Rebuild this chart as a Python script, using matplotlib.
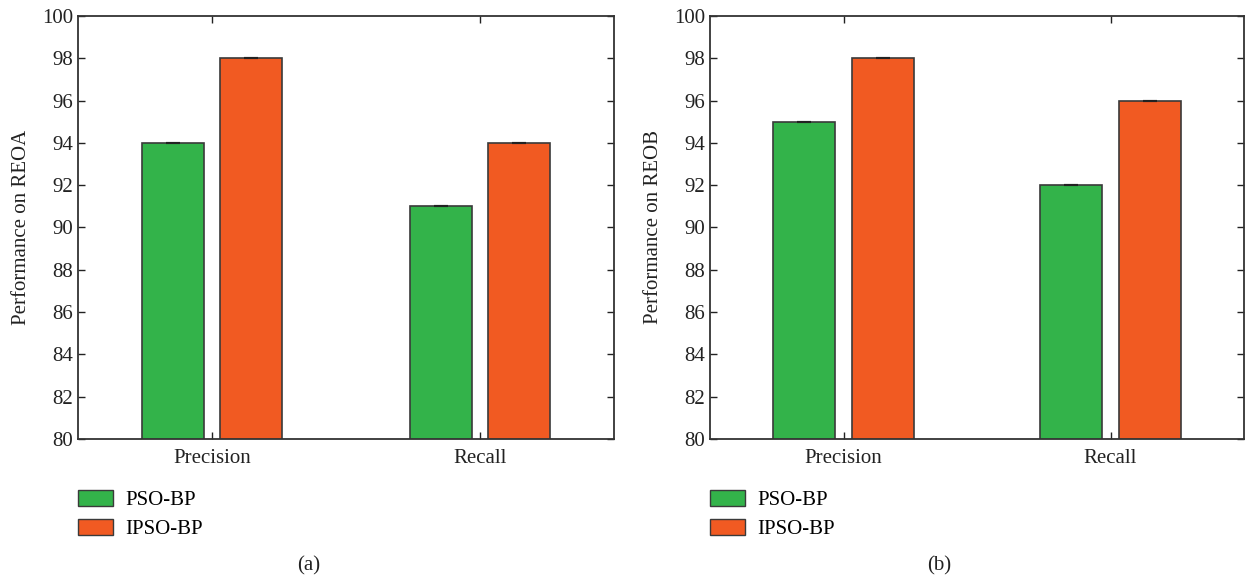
import numpy as np
import matplotlib
matplotlib.use("Agg")
from matplotlib import pyplot as plt
from matplotlib.patches import Patch

categories = ["Precision", "Recall"]
series_names = ["PSO-BP", "IPSO-BP"]
reoa_pso = [94, 91]
reoa_ipso = [98, 94]
reob_pso = [95, 92]
reob_ipso = [98, 96]
yticks = list(range(80, 101, 2))

green = "#33b34a"
orange = "#f15a22"
edge = "#3a3a3a"

plt.rcParams["font.family"] = ["Liberation Serif", "DejaVu Serif"]

fig = plt.figure(figsize=(12.45, 5.8), dpi=100)
ax1 = fig.add_axes([78 / 1245, 1 - 439 / 580, 536 / 1245, 423 / 580])
ax2 = fig.add_axes([710 / 1245, 1 - 439 / 580, 534 / 1245, 423 / 580])


def draw(ax, pso, ipso, ylabel, tag):
    x = np.arange(1, len(categories) + 1)
    w = 0.232
    off = 0.147
    ax.bar(x - off, pso, w, color=green, edgecolor=edge, linewidth=1.2, zorder=2)
    ax.bar(x + off, ipso, w, color=orange, edgecolor=edge, linewidth=1.2, zorder=2)
    ax.errorbar(x - off, pso, yerr=[0] * len(pso), fmt="none", ecolor="#222222",
                capsize=5, capthick=1.5, zorder=3)
    ax.errorbar(x + off, ipso, yerr=[0] * len(ipso), fmt="none", ecolor="#222222",
                capsize=5, capthick=1.5, zorder=3)
    ax.set_xlim(0.5, 2.5)
    ax.set_ylim(80, 100)
    ax.set_yticks(yticks)
    ax.set_xticks(x)
    ax.set_xticklabels(categories)
    ax.tick_params(axis="both", direction="in", top=True, right=True,
                   labelsize=15, colors="#222222", length=5, width=1)
    ax.tick_params(axis="x", pad=7)
    for s in ax.spines.values():
        s.set_color("#333333")
        s.set_linewidth(1.3)
    ax.set_ylabel(ylabel, fontsize=15, color="#222222", labelpad=8)
    handles = [Patch(facecolor=green, edgecolor=edge, label=series_names[0]),
               Patch(facecolor=orange, edgecolor=edge, label=series_names[1])]
    ax.legend(handles=handles, loc="upper left", bbox_to_anchor=(-0.016, -0.1),
              frameon=False, fontsize=15, handlelength=1.7, handleheight=0.8,
              labelspacing=0.45, handletextpad=0.6, borderaxespad=0)
    ax.text(0.43, -0.30, tag, transform=ax.transAxes, ha="center", va="center",
            fontsize=15, color="#222222")


draw(ax1, reoa_pso, reoa_ipso, "Performance on REOA", "(a)")
draw(ax2, reob_pso, reob_ipso, "Performance on REOB", "(b)")

fig.savefig("out.png", dpi=100)
